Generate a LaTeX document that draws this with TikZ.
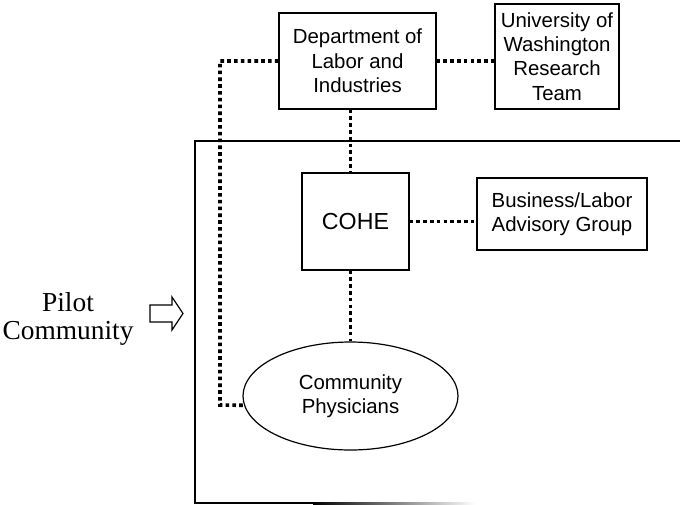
\documentclass[tikz,border=0pt]{standalone}
\usepackage{fontspec}
\setmainfont{Liberation Serif}
\setsansfont{Liberation Sans}
\usetikzlibrary{shapes.geometric}

\begin{document}
\begin{tikzpicture}[x=0.5pt, y=-0.5pt,
	box/.style={rectangle, draw, line width=0.6pt, inner sep=0pt, align=center, font=\sffamily\fontsize{10.2}{12.2}\selectfont},
	dots/.style={line width=1.8pt, dash pattern=on 1.8pt off 1.6pt}]
	\useasboundingbox (0,0) rectangle (680,504);

	\node at (357.5,61) [box, minimum width=78.5pt, minimum height=48pt] (dept) {Department of\\Labor and\\Industries};
	\node at (557,56.5) [box, minimum width=62pt, minimum height=52.5pt] (uw) {University of\\Washington\\Research\\Team};
	\node at (355.5,221.5) [box, minimum width=53.5pt, minimum height=48.5pt, font=\sffamily\fontsize{11.6}{13}\selectfont] (cohe) {COHE};
	\node at (562,214) [box, minimum width=85pt, minimum height=36pt] (biz) {Business/Labor\\Advisory Group};
	\node at (350.5,396) [box, ellipse, minimum width=107.5pt, minimum height=54pt] (phys) {Community\\Physicians};
	\node at (68,319) [align=center, font=\fontsize{13.7}{14}\selectfont] (pilot) {Pilot\\Community};
	\coordinate (bend) at (220,405);

	% pilot community frame
	\draw [line width=1pt] (680,141) -- (195,141) -- (195,503) -- (313,503);
	\shade [left color=black, right color=white] (313,502) rectangle (475,504);
	\draw [line width=0.6pt] (150,305) -- (172,305) -- (172,297) -- (183,313.5) -- (172,330) -- (172,322) -- (150,322) -- cycle;

	\draw [dots] (dept.east) -- (dept.east -| uw.west);
	\draw [dots] (dept.west) -| (bend) -- (phys.185);
	\draw [dots] (dept.south -| phys.north) -- (cohe.north -| phys.north);
	\draw [dots] (cohe.south -| phys.north) -- (phys.north);
	\draw [dots] (cohe.east) -- (cohe.east -| biz.west);
\end{tikzpicture}
\end{document}
